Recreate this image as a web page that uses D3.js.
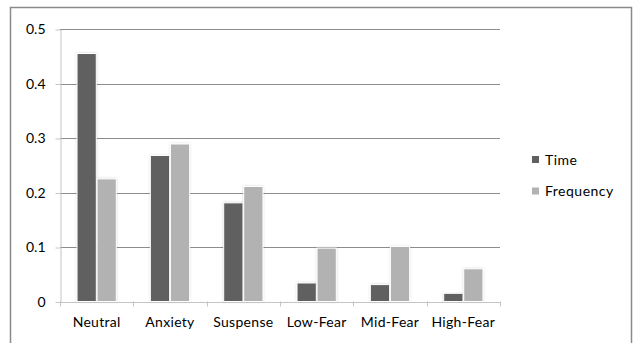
<!DOCTYPE html>
<html><head><meta charset="utf-8">
<script src="https://cdn.jsdelivr.net/npm/d3@7"></script>
<style>body{margin:0;background:#fff;}svg{display:block;}</style>
</head><body><svg id="chart" width="637" height="343"></svg>
<script>
const categories = ["Neutral","Anxiety","Suspense","Low-Fear","Mid-Fear","High-Fear"];
const seriesNames = ["Time","Frequency"];
const timeValues = [0.455,0.268,0.181,0.034,0.031,0.015];
const frequencyValues = [0.225,0.289,0.211,0.098,0.101,0.060];
const yTicks = [0,0.1,0.2,0.3,0.4,0.5];
const colors = ["#606060","#b2b2b2"];

(function(){
const svg = d3.select("#chart");
const font = "Lato, 'Open Sans', sans-serif";
const defs = svg.append("defs");
const f = defs.append("filter").attr("id","sh").attr("x","-30%").attr("y","-10%").attr("width","160%").attr("height","120%");
f.append("feDropShadow").attr("dx",0).attr("dy",0).attr("stdDeviation",1.3).attr("flood-color","#000").attr("flood-opacity",0.18);

// outer border
svg.append("rect").attr("x",10.5).attr("y",7.5).attr("width",621).attr("height",345)
  .attr("fill","none").attr("stroke","#8a8a8a").attr("stroke-width",1.5);

const mLeft=60, mRight=500, mTop=29, mBottom=301.5;
const x = d3.scaleBand().domain(categories).range([mLeft,mRight]).paddingInner(0).paddingOuter(0);
const y = d3.scaleLinear().domain([0,0.5]).range([mBottom,mTop]);
const inner = d3.scaleBand().domain(seriesNames).range([0,x.bandwidth()]).paddingInner(0.04).paddingOuter(0.85);

// gridlines
svg.append("g").selectAll("line").data(yTicks.filter(d=>d>0)).join("line")
  .attr("x1",mLeft).attr("x2",mRight).attr("y1",d=>Math.round(y(d))+0.5).attr("y2",d=>Math.round(y(d))+0.5)
  .attr("stroke","#8c8c8c").attr("stroke-width",1);

// y axis
const yAxis = d3.axisLeft(y).tickValues(yTicks).tickFormat(d=>d===0?"0":d3.format(".1f")(d)).tickSizeInner(5).tickSizeOuter(0).tickPadding(10);
const ya = svg.append("g").attr("transform",`translate(${mLeft+0.5},0.5)`).call(yAxis);
ya.select(".domain").attr("stroke","#c4c4c4");
ya.selectAll(".tick line").attr("stroke","#c4c4c4");
ya.selectAll("text").attr("font-family",font).attr("font-size",14).attr("fill","#000");

// bars
const data = [timeValues, frequencyValues];
const groups = svg.append("g").selectAll("g").data(categories).join("g")
  .attr("transform",d=>`translate(${x(d)},0)`);
groups.selectAll("rect").data((c,i)=>seriesNames.map((s,j)=>({s, v:data[j][i], j}))).join("rect")
  .attr("x",d=>inner(d.s)).attr("width",inner.bandwidth())
  .attr("y",d=>y(d.v)).attr("height",d=>mBottom-y(d.v))
  .attr("fill",d=>colors[d.j]).attr("stroke","#fff").attr("stroke-width",1)
  .attr("filter","url(#sh)");

// x axis
const xAxis = d3.axisBottom(x).tickSizeInner(0).tickSizeOuter(0).tickPadding(15);
const xa = svg.append("g").attr("transform",`translate(0,${mBottom+0.5})`).call(xAxis);
xa.select(".domain").attr("stroke","#c4c4c4");
xa.selectAll("text").attr("font-family",font).attr("font-size",14).attr("letter-spacing",0.3).attr("fill","#000");
svg.append("g").selectAll("line").data(d3.range(categories.length+1)).join("line")
  .attr("x1",i=>Math.round(mLeft+i*x.bandwidth())+0.5).attr("x2",i=>Math.round(mLeft+i*x.bandwidth())+0.5)
  .attr("y1",mBottom).attr("y2",mBottom+5).attr("stroke","#c4c4c4");

// legend
const lg = svg.append("g").selectAll("g").data(seriesNames).join("g")
  .attr("transform",(d,i)=>`translate(532,${159.5+i*31.5})`);
lg.append("rect").attr("x",0).attr("y",-3.5).attr("width",7).attr("height",7).attr("fill",(d,i)=>colors[i]);
lg.append("text").attr("x",13).attr("y",5).text(d=>d).attr("font-family",font).attr("font-size",14).attr("letter-spacing",0.5).attr("fill","#000");
})();
</script></body></html>
